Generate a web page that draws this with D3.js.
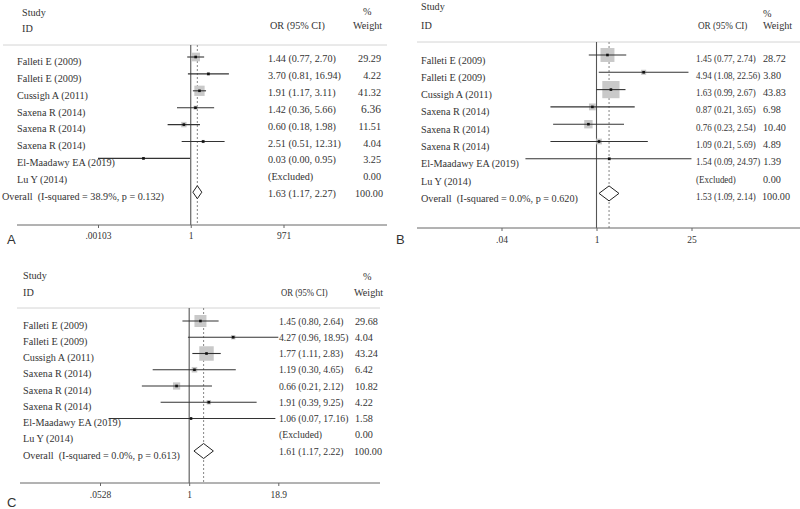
<!DOCTYPE html>
<html><head><meta charset="utf-8">
<script src="https://cdn.jsdelivr.net/npm/d3@7"></script>
<style>
html,body{margin:0;padding:0;background:#fff;}
svg text{font-family:"Liberation Serif","Times New Roman",serif;fill:#333;white-space:pre;}
</style></head>
<body><svg id="c" width="800" height="509"></svg>
<script>
// ---------- DATA ----------
const studies = ["Falleti E (2009)","Falleti E (2009)","Cussigh A (2011)","Saxena R (2014)","Saxena R (2014)","Saxena R (2014)","El-Maadawy EA (2019)","Lu Y (2014)"];

const orA = [1.44,3.70,1.91,1.42,0.60,2.51,0.03,null];
const loA = [0.77,0.81,1.17,0.36,0.18,0.51,0.00,null];
const hiA = [2.70,16.94,3.11,5.66,1.98,12.31,0.95,null];
const wA  = [29.29,4.22,41.32,6.36,11.51,4.04,3.25,0.00];
const overallA = [1.63,1.17,2.27];
const hetA = ["38.9%","0.132"];
const ticksA = [0.00103,1,971];
const tickLabelsA = [".00103","1","971"];

const orB = [1.45,4.94,1.63,0.87,0.76,1.09,1.54,null];
const loB = [0.77,1.08,0.99,0.21,0.23,0.21,0.09,null];
const hiB = [2.74,22.56,2.67,3.65,2.54,5.69,24.97,null];
const wB  = [28.72,3.80,43.83,6.98,10.40,4.89,1.39,0.00];
const overallB = [1.53,1.09,2.14];
const hetB = ["0.0%","0.620"];
const ticksB = [0.04,1,25];
const tickLabelsB = [".04","1","25"];

const orC = [1.45,4.27,1.77,1.19,0.66,1.91,1.06,null];
const loC = [0.80,0.96,1.11,0.30,0.21,0.39,0.07,null];
const hiC = [2.64,18.95,2.83,4.65,2.12,9.25,17.16,null];
const wC  = [29.68,4.04,43.24,6.42,10.82,4.22,1.58,0.00];
const overallC = [1.61,1.17,2.22];
const hetC = ["0.0%","0.613"];
const ticksC = [0.0528,1,18.9];
const tickLabelsC = [".0528","1","18.9"];

const panelLetters = ["A","B","C"];

// ---------- LAYOUT ----------
const layouts = [
 {or:orA,lo:loA,hi:hiA,w:wA,ov:overallA,het:hetA,ticks:ticksA,tl:tickLabelsA,letter:panelLetters[0],
  range:[98,283.5], row0:57, step:16.9, nameX:17, overallX:2, nameOff:7.8, valOff:5, orX:268, valSx:1.0, hdrSx:1.0, wX:381, wAnchor:"end",
  hdr:{x:22,study:16,id:32,orY:28.5,pctX:363,pctY:15,wtX:353,wtY:28.5}, hline:45, hx:[3,387], axisY:225, axisX:[17,387], tickY:239,
  boxK:1.6, diaH:13, letterX:7, letterY:244},
 {or:orB,lo:loB,hi:hiB,w:wB,ov:overallB,het:hetB,ticks:ticksB,tl:tickLabelsB,letter:panelLetters[1],
  range:[501.5,691.5], row0:55, step:17.3, nameX:421, overallX:421, nameOff:8.5, valOff:6.5, orX:696, valSx:0.88, hdrSx:0.9, wX:763, wAnchor:"start",
  hdr:{x:421,study:10,id:28.5,orY:28.5,pctX:763,pctY:17,wtX:763,wtY:28.5}, hline:42, hx:[417,800], axisY:228, axisX:[417,800], tickY:243,
  boxK:2.6, diaH:15, letterX:396, letterY:244},
 {or:orC,lo:loC,hi:hiC,w:wC,ov:overallC,het:hetC,ticks:ticksC,tl:tickLabelsC,letter:panelLetters[2],
  range:[100,278.3], row0:321, step:16.25, nameX:23, overallX:23, nameOff:7.5, valOff:3.5, orX:279, valSx:0.95, hdrSx:0.85, wX:355, wAnchor:"start",
  hdr:{x:23,study:278.5,id:295.5,orY:295.5,pctX:363,pctY:279.5,wtX:354,wtY:295.5}, hline:308, hx:[17,380], axisY:483, axisX:[20,380], tickY:497.5,
  boxK:2.2, diaH:15, letterX:7, letterY:507}
];

const svg = d3.select("#c");
const f2 = d3.format(".2f");
const FS = 10.2;

layouts.forEach(L => {
  const g = svg.append("g");
  const x = d3.scaleLog().domain([L.ticks[0], L.ticks[L.ticks.length-1]]).range(L.range);
  const dmin = L.ticks[0], dmax = L.ticks[L.ticks.length-1];
  const cx = v => x(Math.min(dmax, Math.max(dmin, v)));
  const y = i => L.row0 + i*L.step;
  const nRows = studies.length;

  const t = (xx,yy,s,anchor,size) => g.append("text").attr("x",xx).attr("y",yy).attr("text-anchor",anchor||"start").attr("font-size",size||FS).text(s);
  const ts = (xx,yy,s,sx) => g.append("text").attr("transform",`translate(${xx},${yy}) scale(${sx},1)`).attr("font-size",FS).text(s);

  // headers
  t(L.hdr.x, L.hdr.study, "Study");
  t(L.hdr.x, L.hdr.id, "ID");
  ts(L.orX+2, L.hdr.orY, "OR (95% CI)", L.hdrSx);
  t(L.hdr.pctX, L.hdr.pctY, "%");
  t(L.hdr.wtX, L.hdr.wtY, "Weight");

  // header rule
  g.append("line").attr("x1",L.hx[0]).attr("x2",L.hx[1]).attr("y1",L.hline).attr("y2",L.hline)
    .attr("stroke","#d4d4d4").attr("stroke-width",1);

  // null line and overall dashed line
  g.append("line").attr("x1",x(1)).attr("x2",x(1)).attr("y1",L.hline).attr("y2",L.axisY)
    .attr("stroke","#555").attr("stroke-width",1.1);
  g.append("line").attr("x1",x(L.ov[0])).attr("x2",x(L.ov[0])).attr("y1",L.hline).attr("y2",L.axisY)
    .attr("stroke","#777").attr("stroke-width",0.9).attr("stroke-dasharray","2,2");

  // axis
  const axis = d3.axisBottom(x).tickValues(L.ticks).tickFormat((d,i)=>L.tl[i]).tickSize(3).tickSizeOuter(0);
  const ag = g.append("g").attr("transform",`translate(0,${L.axisY})`).call(axis);
  ag.select(".domain").remove();
  ag.selectAll(".tick line").attr("stroke","#666");
  ag.selectAll(".tick text").attr("font-size",9.5).attr("y",null).attr("dy",null)
    .attr("transform",`translate(0,${L.tickY - L.axisY})`).attr("fill","#444")
    .style("font-family","'Liberation Serif','Times New Roman',serif");
  g.append("line").attr("x1",L.axisX[0]).attr("x2",L.axisX[1]).attr("y1",L.axisY).attr("y2",L.axisY)
    .attr("stroke","#666").attr("stroke-width",1);

  // rows
  for (let i=0;i<nRows;i++){
    const yy = y(i);
    t(L.nameX, yy+L.nameOff, studies[i]);
    let orTxt;
    if (L.or[i]==null){
      orTxt = ts(L.orX, yy+L.valOff, "(Excluded)", L.valSx);
    } else {
      const s = Math.max(2, L.boxK*Math.sqrt(L.w[i]));
      g.append("rect").attr("x",x(L.or[i])-s/2).attr("y",yy-s/2).attr("width",s).attr("height",s).attr("fill","#c9c9c9");
      g.append("line").attr("x1",cx(L.lo[i])).attr("x2",cx(L.hi[i])).attr("y1",yy).attr("y2",yy)
        .attr("stroke","#333").attr("stroke-width",1.1);
      g.append("rect").attr("x",x(L.or[i])-1.3).attr("y",yy-1.3).attr("width",2.6).attr("height",2.6).attr("fill","#111");
      orTxt = ts(L.orX, yy+L.valOff, `${f2(L.or[i])} (${f2(L.lo[i])}, ${f2(L.hi[i])})`, L.valSx);
    }
    const big = (L.letter==="A" && i===3);
    const wt = t(L.wX, yy+L.valOff, f2(L.w[i]), L.wAnchor, big?11.5:FS);
    if (L.wAnchor==="start"){
      const endOR = L.orX + orTxt.node().getComputedTextLength()*L.valSx + 3;
      if (endOR > L.wX) wt.attr("x", endOR);
    }
  }

  // overall
  const yo = y(nRows);
  t(L.overallX, yo+L.nameOff, `Overall  (I-squared = ${L.het[0]}, p = ${L.het[1]})`);
  const h = L.diaH/2;
  g.append("path").attr("d",
      `M${x(L.ov[1])},${yo} L${x(L.ov[0])},${yo-h} L${x(L.ov[2])},${yo} L${x(L.ov[0])},${yo+h} Z`)
    .attr("fill","#fff").attr("stroke","#222").attr("stroke-width",1);
  ts(L.orX, yo+L.valOff, `${f2(L.ov[0])} (${f2(L.ov[1])}, ${f2(L.ov[2])})`, L.valSx);
  t(L.wX + (L.wAnchor==="end"?2:-1), yo+L.valOff, "100.00", L.wAnchor);

  // panel letter
  g.append("text").attr("x",L.letterX).attr("y",L.letterY).attr("font-size",13)
    .style("font-family","'Liberation Sans',Arial,sans-serif").attr("fill","#222").text(L.letter);
});
</script></body></html>
